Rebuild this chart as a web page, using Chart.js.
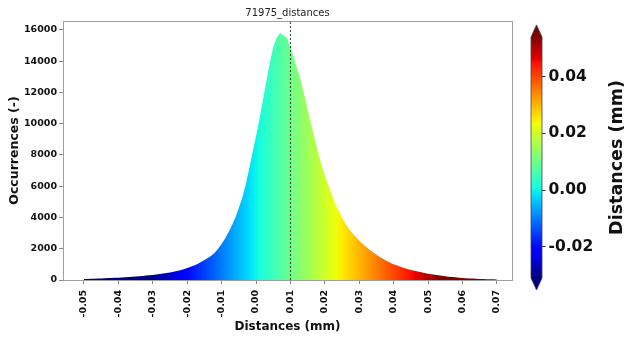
<!DOCTYPE html>
<html>
<head>
<meta charset="utf-8">
<script src="https://cdn.jsdelivr.net/npm/chart.js@4"></script>
<style>
    html, body { margin: 0; padding: 0; background: #fff; }
    #wrap { position: relative; width: 626px; height: 337px; }
    #wrap canvas { position: absolute; left: 0; top: 0; }
</style>
</head>
<body>
<div id="wrap">
    <canvas id="histChart" width="626" height="337"></canvas>
    <canvas id="colorbarChart" width="626" height="337"></canvas>
</div>
<script>
/* 71975_distances 히스토그램 + 컬러바 */

// 데이터
const chartTitle = '71975_distances';
const xTitle = 'Distances (mm)';
const yTitle = 'Occurrences (-)';
const colorbarTitle = 'Distances (mm)';

const binStart = -0.050;   // 첫 구간 중심 (mm)
const binWidth = 0.001;    // 구간 폭 (mm)
const counts = [
    60, 65, 75, 80, 90, 100, 110, 120, 130, 140,
    150, 160, 175, 190, 205, 220, 240, 260, 280, 300,
    320, 350, 380, 410, 445, 480, 530, 580, 630, 690,
    760, 840, 930, 1030, 1150, 1280, 1400, 1550, 1750, 2000,
    2300, 2650, 3050, 3500, 4000, 4600, 5250, 6100, 7100, 8150,
    9200, 10300, 11500, 12700, 13900, 14900, 15500, 15800, 15650, 15500,
    14900, 14200, 13500, 12800, 11900, 10900, 10000, 9100, 8200, 7400,
    6700, 6100, 5500, 4900, 4450, 4000, 3600, 3280, 3000, 2750,
    2520, 2310, 2120, 1940, 1770, 1610, 1470, 1340, 1220, 1110,
    1010, 920, 840, 770, 705, 645, 590, 540, 490, 440,
    400, 360, 330, 300, 270, 240, 215, 190, 170, 150,
    130, 115, 100, 90, 80, 70, 62, 55, 48, 40, 30
];
const markerX = 0.01;      // 점선 위치

const xTicks = [-0.05, -0.04, -0.03, -0.02, -0.01, 0.00, 0.01, 0.02, 0.03, 0.04, 0.05, 0.06, 0.07];
const yTicks = [0, 2000, 4000, 6000, 8000, 10000, 12000, 14000, 16000];
const cbTicks = [-0.02, 0.00, 0.02, 0.04];

const xMin = -0.0561, xMax = 0.0744;
const yMin = 0, yMax = 16570;
const cbMin = -0.031, cbMax = 0.054;

// jet 컬러맵 (matplotlib)
const jetStops = [
    [0.000, 'rgb(0,0,128)'],
    [0.110, 'rgb(0,0,255)'],
    [0.125, 'rgb(0,0,255)'],
    [0.340, 'rgb(0,219,255)'],
    [0.350, 'rgb(0,230,247)'],
    [0.375, 'rgb(21,255,226)'],
    [0.640, 'rgb(239,255,8)'],
    [0.650, 'rgb(247,245,0)'],
    [0.660, 'rgb(255,236,0)'],
    [0.890, 'rgb(255,19,0)'],
    [0.910, 'rgb(232,0,0)'],
    [1.000, 'rgb(128,0,0)']
];

Chart.defaults.font.family = "'DejaVu Sans', sans-serif";
Chart.defaults.color = '#111';

const spineColor = '#a0a0a0';
const tickColor = '#8a8a8a';
const boldTick = { family: "'DejaVu Sans', sans-serif", size: 9.5, weight: 'bold' };

function jetGradient(ctx, x0, y0, x1, y1) {
    const g = ctx.createLinearGradient(x0, y0, x1, y1);
    jetStops.forEach(([p, c]) => g.addColorStop(p, c));
    return g;
}

const setTicks = (values) => (scale) => { scale.ticks = values.map(v => ({ value: v })); };

const points = counts.map((c, i) => ({ x: binStart + i * binWidth, y: c }));

// 히스토그램
new Chart(document.getElementById('histChart').getContext('2d'), {
    type: 'line',
    data: {
        datasets: [
            {
                data: points,
                fill: 'origin',
                borderColor: 'rgba(0,0,0,0)',
                borderWidth: 0,
                pointRadius: 0,
                tension: 0,
                order: 2,
                backgroundColor: (context) => {
                    const { chart } = context;
                    if (!chart.chartArea) return '#0ff';
                    const xs = chart.scales.x;
                    return jetGradient(chart.ctx, xs.getPixelForValue(cbMin), 0, xs.getPixelForValue(cbMax), 0);
                }
            },
            {
                data: [{ x: markerX, y: yMin }, { x: markerX, y: yMax }],
                borderColor: '#333',
                borderWidth: 1,
                borderDash: [2, 2],
                pointRadius: 0,
                fill: false,
                order: 1
            }
        ]
    },
    options: {
        responsive: false,
        animation: false,
        devicePixelRatio: 1,
        layout: { padding: 0 },
        plugins: { legend: { display: false }, tooltip: { enabled: false } },
        scales: {
            x: {
                type: 'linear', position: 'bottom', min: xMin, max: xMax, z: 1,
                afterBuildTicks: setTicks(xTicks),
                afterFit: (s) => { s.height = 57; },
                ticks: {
                    autoSkip: false, minRotation: 90, maxRotation: 90, padding: 6,
                    font: boldTick, color: '#111',
                    callback: (v) => Number(v).toFixed(2)
                },
                grid: { display: true, drawOnChartArea: false, drawTicks: true, tickLength: 4, color: tickColor },
                border: { display: true, color: spineColor },
                title: {
                    display: true, text: xTitle, color: '#111',
                    font: { size: 12, weight: 'bold' }, padding: { top: 0, bottom: 3 }
                }
            },
            x2: {
                type: 'linear', position: 'top', min: xMin, max: xMax, z: 1,
                afterFit: (s) => { s.height = 21; },
                ticks: { display: false },
                grid: { display: false },
                border: { display: true, color: spineColor },
                title: {
                    display: true, text: chartTitle, color: '#222',
                    font: { size: 10 }, padding: { top: 7, bottom: 0 }
                }
            },
            y: {
                type: 'linear', position: 'left', min: yMin, max: yMax, z: 1,
                afterBuildTicks: setTicks(yTicks),
                afterFit: (s) => { s.width = 63; },
                ticks: { font: boldTick, color: '#111', padding: 2, callback: (v) => String(v) },
                grid: { display: true, drawOnChartArea: false, drawTicks: true, tickLength: 4, color: tickColor },
                border: { display: true, color: spineColor },
                title: {
                    display: true, text: yTitle, color: '#111',
                    font: { size: 12.5, weight: 'bold' }, padding: { top: 7.5, bottom: 0 }
                }
            },
            y2: {
                type: 'linear', position: 'right', min: yMin, max: yMax, z: 1,
                afterFit: (s) => { s.width = 114; },
                ticks: { display: false },
                grid: { display: false },
                border: { display: true, color: spineColor }
            }
        }
    }
});

// 컬러바 화살표, 테두리, 라벨
const colorbarExtras = {
    id: 'colorbarExtras',
    afterDatasetsDraw(chart) {
        const { ctx, chartArea: a, scales: { y } } = chart;
        const top = y.getPixelForValue(cbMax);
        const bottom = y.getPixelForValue(cbMin);
        const tip = (bottom - top) * 0.05;
        const cx = (a.left + a.right) / 2;
        ctx.save();
        ctx.fillStyle = jetStops[jetStops.length - 1][1];
        ctx.beginPath();
        ctx.moveTo(a.left, top); ctx.lineTo(cx, top - tip); ctx.lineTo(a.right, top); ctx.closePath();
        ctx.fill();
        ctx.fillStyle = jetStops[0][1];
        ctx.beginPath();
        ctx.moveTo(a.left, bottom); ctx.lineTo(cx, bottom + tip); ctx.lineTo(a.right, bottom); ctx.closePath();
        ctx.fill();

        ctx.strokeStyle = '#444';
        ctx.lineWidth = 0.8;
        ctx.beginPath();
        ctx.moveTo(a.left, top); ctx.lineTo(cx, top - tip); ctx.lineTo(a.right, top);
        ctx.lineTo(a.right, bottom); ctx.lineTo(cx, bottom + tip); ctx.lineTo(a.left, bottom);
        ctx.closePath();
        ctx.stroke();

        ctx.translate(617, (top + bottom) / 2);
        ctx.rotate(-Math.PI / 2);
        ctx.fillStyle = '#111';
        ctx.font = "bold 17.5px 'DejaVu Sans', sans-serif";
        ctx.textAlign = 'center';
        ctx.textBaseline = 'middle';
        ctx.fillText(colorbarTitle, 0, 0);
        ctx.restore();
    }
};

// 컬러바
new Chart(document.getElementById('colorbarChart').getContext('2d'), {
    type: 'bar',
    data: {
        labels: [''],
        datasets: [{
            data: [[cbMin, cbMax]],
            barPercentage: 1,
            categoryPercentage: 1,
            borderWidth: 0,
            backgroundColor: (context) => {
                const { chart } = context;
                if (!chart.chartArea) return '#0ff';
                const ys = chart.scales.y;
                return jetGradient(chart.ctx, 0, ys.getPixelForValue(cbMin), 0, ys.getPixelForValue(cbMax));
            }
        }]
    },
    options: {
        responsive: false,
        animation: false,
        devicePixelRatio: 1,
        layout: { padding: { left: 531, top: 37, bottom: 59, right: 0 } },
        plugins: { legend: { display: false }, tooltip: { enabled: false } },
        scales: {
            x: { display: false },
            y: {
                position: 'right', min: cbMin, max: cbMax,
                afterBuildTicks: setTicks(cbTicks),
                afterFit: (s) => { s.width = 84; },
                ticks: {
                    font: { size: 15.5, weight: 'bold' }, color: '#111', padding: 3,
                    callback: (v) => Number(v).toFixed(2)
                },
                grid: { display: true, drawOnChartArea: false, drawTicks: true, tickLength: 3.5, color: '#333' },
                border: { display: false }
            }
        }
    },
    plugins: [colorbarExtras]
});
</script>
</body>
</html>
